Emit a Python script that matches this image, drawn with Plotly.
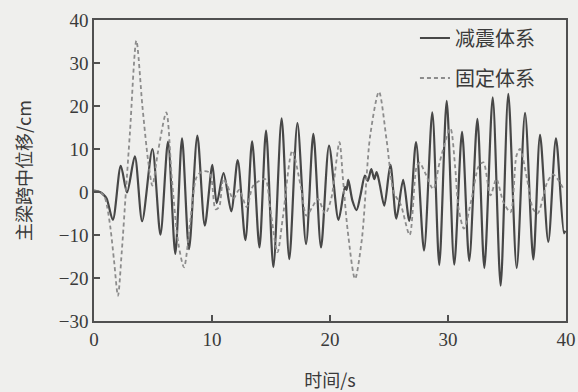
import plotly.graph_objects as go

# 减震体系 (solid) — time (s) and displacement (cm)
t_damped = [0.0, 0.5, 0.8, 1.07, 1.6, 2.27, 2.8, 3.46, 4.08, 4.95, 5.63, 6.27, 6.89, 7.46, 8.05,
            8.76, 9.39, 10.03, 10.4, 10.98, 11.63, 12.18, 12.83, 13.4, 14.02, 14.58, 15.2, 15.9,
            16.55, 17.24, 17.97, 18.59, 19.24, 19.92, 20.72, 21.27, 21.4, 21.55, 21.9, 22.25,
            22.6, 22.96, 23.2, 23.5, 23.75, 23.95, 24.2, 24.6, 25.12, 25.62, 26.2, 26.72, 27.29,
            27.97, 28.67, 29.26, 29.89, 30.53, 31.19, 31.8, 32.49, 33.08, 33.79, 34.46, 35.11,
            35.82, 36.53, 37.23, 37.8, 38.5, 39.15, 39.83, 39.95]
y_damped = [0.3, 0.0, -0.6, -1.5, -6.5, 6.1, -0.1, 8.3, -6.8, 10.0, -9.9, 11.7, -14.4, 12.5, -13.3,
            13.1, -7.8, 6.3, -2.6, 4.4, -4.5, 7.4, -11.2, 11.8, -12.9, 14.3, -17.5, 17.1,
            -15.6, 16.0, -12.1, 13.5, -12.9, 10.8, -6.5, 1.2, 0.5, 2.8, -2.0, -4.2,
            -0.5, 3.8, 2.6, 5.3, 3.0, 4.6, 2.0, -3.2, 6.3, -6.2, 2.8, -6.7, 11.6,
            -13.6, 18.5, -17.0, 21.2, -16.9, 14.0, -16.0, 17.0, -17.7, 22.0, -21.8, 22.8,
            -17.7, 18.4, -15.7, 13.3, -11.6, 12.5, -9.6, -9.0]

# 固定体系 (dashed)
t_fixed = [0.0, 0.5, 0.9, 1.1, 1.4, 1.7, 2.03, 2.35, 2.7, 3.05, 3.59, 4.1, 4.6, 4.95, 5.4, 6.13,
           6.6, 7.15, 7.63, 8.15, 8.7, 9.2, 9.8, 10.3, 10.6, 10.96, 11.3, 11.8, 12.3, 12.94,
           13.5, 14.5, 14.9, 15.55, 16.0, 16.8, 17.5, 18.0, 18.5, 18.97, 19.6, 20.1, 20.8,
           21.1, 21.5, 22.12, 22.7, 23.4, 24.15, 24.8, 25.4, 26.0, 26.75, 27.35, 27.6, 28.05,
           28.75, 29.3, 30.2, 30.6, 30.9, 31.35, 32.0, 32.6, 33.0, 33.6, 34.1, 34.7, 35.3,
           35.8, 36.1, 36.7, 37.2, 37.6, 38.4, 38.9, 39.8]
y_fixed = [0.2, 0.0, -1.2, -3.2, -8.5, -16.0, -24.1, -14.0, 0.0, 14.0, 35.2, 20.0, 7.0, 1.5, 9.0, 18.5,
           3.0, -12.0, -17.5, -7.0, 3.5, 4.8, 4.5, -4.0, -3.5, 3.0, 1.5, -1.6, 0.5, -3.5,
           1.5, 3.0, -3.2, -14.0, -6.0, 9.6, 1.6, -5.5, -3.5, -1.6, -5.0, -1.6, 11.6,
           3.0, -9.0, -20.2, -11.0, 13.0, 23.3, 12.0, 0.0, -3.0, -10.0, 6.0, 6.8, 4.5,
           0.7, 7.0, 14.8, 6.0, -3.9, -8.5, -1.6, 6.0, 6.9, -0.8, 3.0, -2.4, -4.7,
           8.4, 10.0, 3.0, -3.9, -5.0, 2.2, 4.1, 0.7]

x_ticks = [0, 10, 20, 30, 40]
y_ticks = [-30, -20, -10, 0, 10, 20, 30, 40]

FONT = "Liberation Serif, Noto Sans CJK SC, serif"
CJK = "Noto Sans CJK SC, Liberation Serif"
BG = "#efefed"
AX = "#505050"
TXT = "#3a3a3a"

fig = go.Figure()
fig.add_trace(go.Scatter(
    x=t_damped, y=y_damped, mode="lines", name="减震体系", legendgroup="a",
    line=dict(color="#474747", width=2.2, shape="spline", smoothing=0.8),
))
fig.add_trace(go.Scatter(
    x=t_fixed, y=y_fixed, mode="lines", name="固定体系", legendgroup="b",
    line=dict(color="#8c8c8c", width=1.8, dash="4px,3px", shape="spline", smoothing=0.8),
))

fig.update_layout(
    width=578, height=392,
    margin=dict(l=94, r=12, t=20, b=71, autoexpand=False),
    paper_bgcolor=BG, plot_bgcolor=BG,
    font=dict(family=FONT, size=18, color=TXT),
    showlegend=True,
    legend=dict(
        x=0.68, y=1.005, xanchor="left", yanchor="top",
        bgcolor="rgba(0,0,0,0)", borderwidth=0,
        font=dict(size=20, family=CJK, color=TXT),
        tracegroupgap=11, traceorder="grouped",
    ),
    xaxis=dict(
        range=[0, 40], tickvals=x_ticks, ticks="inside", ticklen=6, tickwidth=1.5,
        tickcolor=AX, showline=True, linecolor=AX, linewidth=1.6, mirror=True,
        showgrid=False, zeroline=False, tickfont=dict(size=19), automargin=False,
        title=dict(text="时间/s", font=dict(size=18, family=CJK, color=TXT), standoff=28),
    ),
    yaxis=dict(
        range=[-30, 40], tickvals=y_ticks, ticks="inside", ticklen=6, tickwidth=1.5,
        tickcolor=AX, showline=True, linecolor=AX, linewidth=1.6, mirror=True,
        showgrid=False, zeroline=False, tickfont=dict(size=19), automargin=False,
        title=dict(text="主梁跨中位移/cm", font=dict(size=18, family=CJK, color=TXT), standoff=22),
    ),
)

fig.write_html("out.html")
